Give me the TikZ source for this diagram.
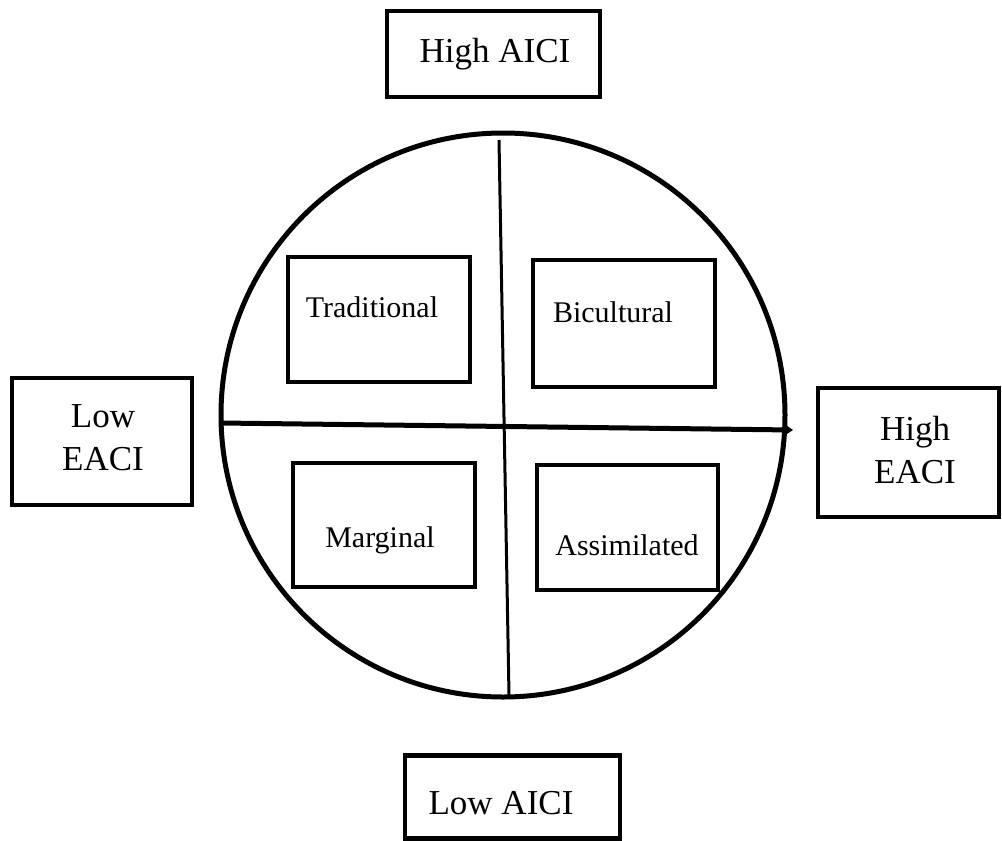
\documentclass[tikz,border=0pt]{standalone}
\usepackage{fontspec}
\setmainfont{Liberation Serif}
\usetikzlibrary{arrows.meta}
\begin{document}
\begin{tikzpicture}[x=1pt,y=-1pt,
  outerbox/.style={draw=black,line width=4.5pt,rectangle,inner sep=0pt},
  innerbox/.style={draw=black,line width=4pt,rectangle,inner sep=0pt},
  outerlab/.style={font=\fontsize{35}{43}\selectfont,align=center,inner sep=0pt},
  innerlab/.style={font=\fontsize{30}{34}\selectfont,inner sep=0pt},
  axis/.style={draw=black,line width=3pt},
  ring/.style={draw=black,line width=5pt}]
\useasboundingbox (0,0) rectangle (1002,841);
% circle
\draw[ring] (503,415) circle [radius=282];
% axes
\coordinate (vtop) at (499,140);
\coordinate (vbot) at (509,695);
\coordinate (hleft) at (221,423);
\coordinate (hright) at (793,430);
\draw[axis] (vtop) -- (vbot);
\draw[axis,line width=5pt,-{Stealth[length=9pt,width=12pt]}] (hleft) -- (hright);
% outer boxes
\node[outerbox,minimum width=213pt,minimum height=86pt] (highaici) at (493.5,54) {};
\node[outerlab] at (495,54) {High AICI};
\node[outerbox,minimum width=180pt,minimum height=127pt] (loweaci) at (102,441.5) {};
\node[outerlab] at (103,438) {Low\\EACI};
\node[outerbox,minimum width=181pt,minimum height=129pt] (higheaci) at (908.5,452.5) {};
\node[outerlab] at (915,450) {High\\EACI};
\node[outerbox,minimum width=215pt,minimum height=83pt] (lowaici) at (512.5,797) {};
\node[outerlab] at (501,803) {Low AICI};
% inner boxes
\node[innerbox,minimum width=182pt,minimum height=125pt] (trad) at (379,319.5) {};
\node[innerlab] at (372,307) {Traditional};
\node[innerbox,minimum width=182pt,minimum height=127pt] (bicu) at (624,323.5) {};
\node[innerlab] at (613,312) {Bicultural};
\node[innerbox,minimum width=182pt,minimum height=124pt] (marg) at (384,525) {};
\node[innerlab] at (380,540) {Marginal};
\node[innerbox,minimum width=181pt,minimum height=125pt] (assi) at (627.5,527.5) {};
\node[innerlab] at (627,545) {Assimilated};
\end{tikzpicture}
\end{document}
